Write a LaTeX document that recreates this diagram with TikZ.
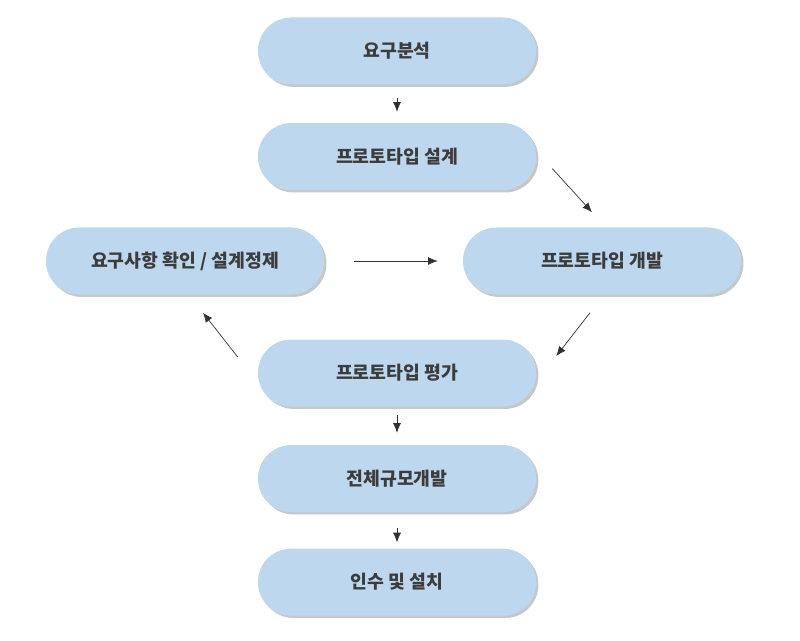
\documentclass[tikz,border=0pt]{standalone}
\usepackage{fontspec}
\setmainfont{Noto Sans CJK KR}
\usepackage{xcolor}
\usepackage{tikz}
\usetikzlibrary{arrows.meta,positioning,calc,shadows}
\definecolor{stageblue}{RGB}{189,215,238}
\definecolor{stagetext}{RGB}{60,60,60}
\definecolor{stageline}{RGB}{50,50,50}

\begin{document}
\begin{tikzpicture}[
        stage/.style={rectangle, rounded corners=0.83cm, fill=stageblue, minimum width=6.95cm, minimum height=1.675cm,
            font=\fontsize{13}{15}\selectfont\bfseries, text=stagetext,
            drop shadow={shadow xshift=0.06cm, shadow yshift=-0.06cm, opacity=0.55, fill=gray!80}},
        arrow/.style={-{Latex[length=2.4mm,width=2mm]}, stageline, line width=0.5pt}
    ]
        \useasboundingbox (0,0) rectangle (20,-16.025);

        % Main line
        \node[stage] (req) at (9.925,-1.275) {요구분석};
        \node[stage, below=0.95cm of req] (design) {프로토타입 설계};

        % Prototype loop
        \node[stage] (build) at (15.05,-6.525) {프로토타입 개발};
        \node[stage] (refine) at (4.625,-6.525) {요구사항 확인 / 설계정제};
        \node[stage] (eval) at (9.925,-9.325) {프로토타입 평가};

        % After the loop
        \node[stage, below=0.95cm of eval] (full) {전체규모개발};
        \node[stage, below=0.9cm of full] (accept) {인수 및 설치};

        % Arrows
        \draw[arrow, shorten <=0.325cm, shorten >=0.275cm] (req) -- (design);
        \draw[arrow] ([xshift=0.4cm, yshift=-0.3cm]design.east) -- ([xshift=-0.25cm, yshift=0.375cm]build.north);
        \draw[arrow, shorten <=0.75cm, shorten >=0.625cm] (refine) -- (build);
        \draw[arrow] ([xshift=-0.3cm, yshift=-0.45cm]build.south) -- ([xshift=0.5cm, yshift=0.425cm]eval.east);
        \draw[arrow] ([xshift=-0.5cm, yshift=0.4cm]eval.west) -- ([xshift=0.45cm, yshift=-0.45cm]refine.south);
        \draw[arrow, shorten <=0.2cm, shorten >=0.3cm] (eval) -- (full);
        \draw[arrow, shorten <=0.4cm, shorten >=0.15cm] (full) -- (accept);
    \end{tikzpicture}
\end{document}
